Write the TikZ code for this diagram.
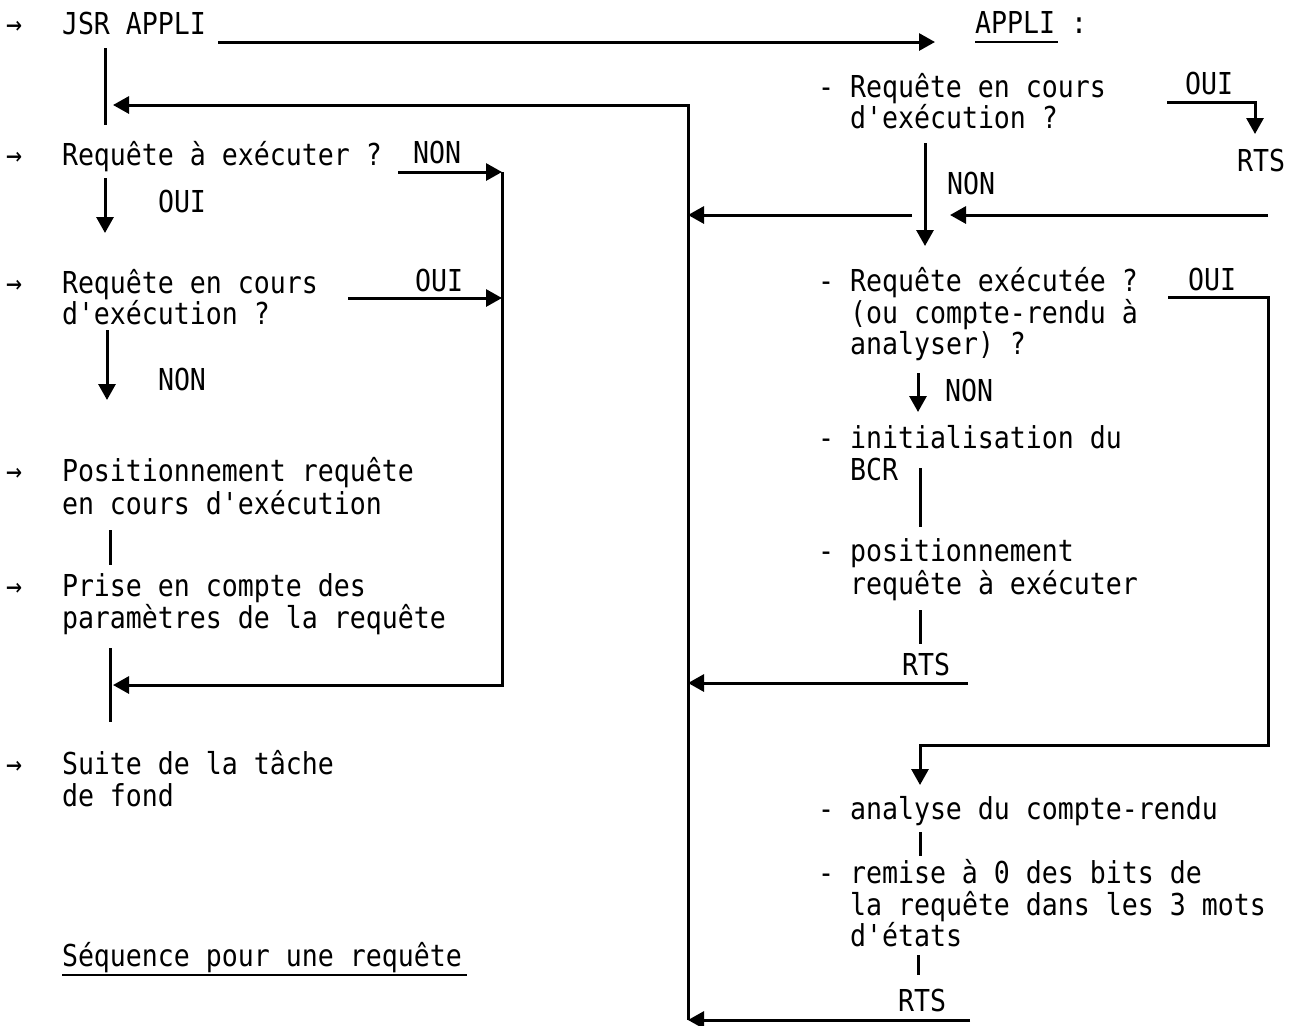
\documentclass[tikz,border=0pt]{standalone}
\usepackage{fontspec}
\setmonofont[FakeStretch=0.88]{DejaVu Sans Mono}
\usetikzlibrary{arrows.meta}
\begin{document}
\begin{tikzpicture}[x=0.5pt,y=-0.5pt,
  txt/.style={anchor=base west, inner sep=0pt, outer sep=0pt, font=\ttfamily\fontsize{15.1}{16}\selectfont},
  ln/.style={line width=1.5pt},
  arr/.style={ln,-{Triangle[length=8pt,width=8.5pt]}}]
\fill[white] (0,0) rectangle (1296,1025);
\useasboundingbox (0,0) rectangle (1296,1025);

% ---------- left column ----------
\node[txt] (m1) at (6,34) {→};
\node[txt] (jsr) at (62,34) {JSR APPLI};
\node[txt] (m2) at (6,165) {→};
\node[txt] (q1) at (62,165) {Requête à exécuter ?};
\node[txt] (non1) at (413,163) {NON};
\node[txt] (oui1) at (158,212) {OUI};
\node[txt] (m3) at (6,293) {→};
\node[txt] (q2a) at (62,293) {Requête en cours};
\node[txt] (q2b) at (62,324) {d'exécution ?};
\node[txt] (oui2) at (415,291) {OUI};
\node[txt] (non2) at (158,390) {NON};
\node[txt] (m4) at (6,481) {→};
\node[txt] (posa) at (62,481) {Positionnement requête};
\node[txt] (posb) at (62,514) {en cours d'exécution};
\node[txt] (m5) at (6,596) {→};
\node[txt] (prisea) at (62,596) {Prise en compte des};
\node[txt] (priseb) at (62,628) {paramètres de la requête};
\node[txt] (m6) at (6,774) {→};
\node[txt] (suitea) at (62,774) {Suite de la tâche};
\node[txt] (suiteb) at (62,806) {de fond};
\node[txt] (seq) at (62,966) {Séquence pour une requête};

% ---------- right column ----------
\node[txt] (appli) at (975,33) {APPLI :};
\node[txt] (r1a) at (818,97) {- Requête en cours};
\node[txt] (r1b) at (850,128) {d'exécution ?};
\node[txt] (oui3) at (1185,94) {OUI};
\node[txt] (rts1) at (1237,171) {RTS};
\node[txt] (non3) at (947,194) {NON};
\node[txt] (r2a) at (818,291) {- Requête exécutée ?};
\node[txt] (r2b) at (850,323) {(ou compte-rendu à};
\node[txt] (r2c) at (850,354) {analyser) ?};
\node[txt] (oui4) at (1188,290) {OUI};
\node[txt] (non4) at (945,401) {NON};
\node[txt] (inia) at (818,448) {- initialisation du};
\node[txt] (inib) at (850,480) {BCR};
\node[txt] (posra) at (818,561) {- positionnement};
\node[txt] (posrb) at (850,594) {requête à exécuter};
\node[txt] (rts2) at (902,675) {RTS};
\node[txt] (ana) at (818,819) {- analyse du compte-rendu};
\node[txt] (rema) at (818,883) {- remise à 0 des bits de};
\node[txt] (remb) at (850,915) {la requête dans les 3 mots};
\node[txt] (remc) at (850,946) {d'états};
\node[txt] (rts3) at (898,1011) {RTS};

% ---------- coordinates ----------
\coordinate (jsrE) at (218,42);
\coordinate (appliW) at (935,42);
\coordinate (ul1a) at (975,42);
\coordinate (ul1b) at (1058,42);
\coordinate (ul2a) at (62,975);
\coordinate (ul2b) at (467,975);

\coordinate (L1t) at (105,48);
\coordinate (L1b) at (105,125);
\coordinate (retTip) at (113,105);
\coordinate (busTop) at (688,105);
\coordinate (busBot) at (688,1020);
\coordinate (bus1) at (688,215);
\coordinate (bus2) at (688,683);

\coordinate (non1s) at (398,172);
\coordinate (col2t) at (502,172);
\coordinate (col2b) at (502,685);
\coordinate (oui2s) at (348,298);
\coordinate (oui2e) at (502,298);
\coordinate (ret2Tip) at (113,685);
\coordinate (L2t) at (110,648);
\coordinate (L2b) at (110,722);

\coordinate (oui1t) at (105,178);
\coordinate (oui1b) at (105,233);
\coordinate (non2t) at (107,330);
\coordinate (non2b) at (107,400);
\coordinate (L3t) at (110,530);
\coordinate (L3b) at (110,565);

\coordinate (oui3s) at (1167,102);
\coordinate (oui3c) at (1255,102);
\coordinate (oui3e) at (1255,134);
\coordinate (non3t) at (925,143);
\coordinate (non3b) at (925,246);
\coordinate (inR) at (1268,215);
\coordinate (inTip) at (950,215);
\coordinate (outL) at (912,215);

\coordinate (oui4s) at (1168,297);
\coordinate (oui4c1) at (1268,297);
\coordinate (oui4c2) at (1268,745);
\coordinate (oui4c3) at (920,745);
\coordinate (oui4e) at (920,785);

\coordinate (non4t) at (918,373);
\coordinate (non4b) at (918,412);
\coordinate (V1t) at (920,468);
\coordinate (V1b) at (920,527);
\coordinate (V2t) at (920,610);
\coordinate (V2b) at (920,644);
\coordinate (rts2e) at (968,683);
\coordinate (V3t) at (920,832);
\coordinate (V3b) at (920,856);
\coordinate (V4t) at (918,955);
\coordinate (V4b) at (918,975);
\coordinate (rts3e) at (970,1020);

% ---------- connectors ----------
\draw[arr] (jsrE) -- (appliW);
\draw[line width=0.9pt] (ul1a) -- (ul1b);
\draw[line width=0.9pt] (ul2a) -- (ul2b);

\draw[ln] (L1t) -- (L1b);
\draw[arr] (busBot) -- (busTop) -- (retTip);

\draw[arr] (non1s) -- (col2t);
\draw[arr] (col2t) -- (col2b) -- (ret2Tip);
\draw[arr] (oui2s) -- (oui2e);
\draw[ln] (L2t) -- (L2b);

\draw[arr] (oui1t) -- (oui1b);
\draw[arr] (non2t) -- (non2b);
\draw[ln] (L3t) -- (L3b);

\draw[arr] (oui3s) -- (oui3c) -- (oui3e);
\draw[arr] (non3t) -- (non3b);
\draw[arr] (inR) -- (inTip);
\draw[arr] (outL) -- (bus1);

\draw[arr] (oui4s) -- (oui4c1) -- (oui4c2) -- (oui4c3) -- (oui4e);
\draw[arr] (non4t) -- (non4b);
\draw[ln] (V1t) -- (V1b);
\draw[ln] (V2t) -- (V2b);
\draw[arr] (rts2e) -- (bus2);
\draw[ln] (V3t) -- (V3b);
\draw[ln] (V4t) -- (V4b);
\draw[arr] (rts3e) -- (busBot);
\end{tikzpicture}
\end{document}
